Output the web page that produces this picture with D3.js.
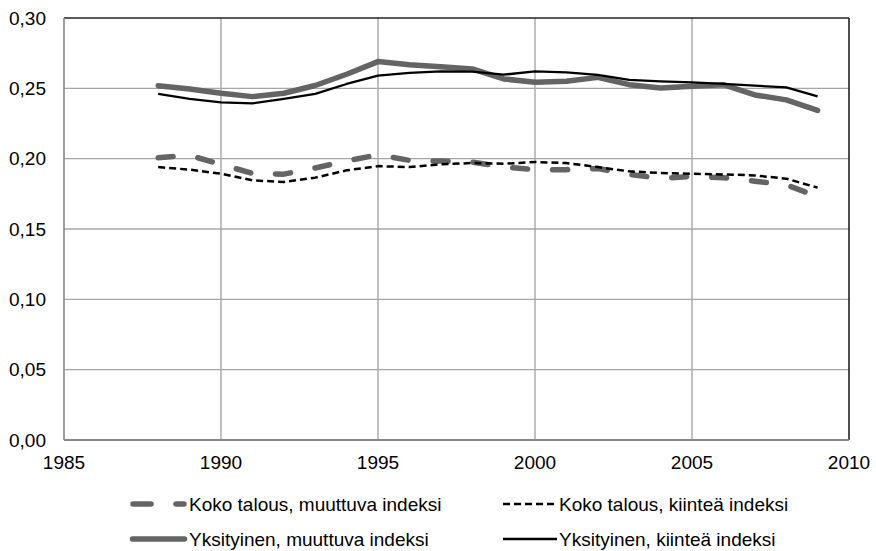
<!DOCTYPE html>
<html>
<head>
<meta charset="utf-8">
<script src="https://cdn.jsdelivr.net/npm/d3@7/dist/d3.min.js"></script>
<style>
  html, body { margin: 0; padding: 0; background: #fff; }
  svg { display: block; }
  text { font-family: "Liberation Sans", Arial, sans-serif; fill: #000; }
</style>
</head>
<body>
<svg id="chart" width="876" height="551"></svg>
<script>
const years = d3.range(1988, 2010);
const kokoMuuttuva = [0.2007, 0.2023, 0.1960, 0.1895, 0.1890, 0.1934, 0.1983, 0.2028, 0.1988, 0.1983, 0.1976, 0.1940,
                      0.1922, 0.1922, 0.1930, 0.1888, 0.1860, 0.1874, 0.1865, 0.1840, 0.1813, 0.1732];
const kokoKiintea = [0.1940, 0.1922, 0.1893, 0.1846, 0.1834, 0.1865, 0.1917, 0.1947, 0.1940, 0.1960, 0.1969, 0.1964,
                     0.1976, 0.1969, 0.1940, 0.1910, 0.1898, 0.1893, 0.1888, 0.1881, 0.1858, 0.1794];
const yksMuuttuva = [0.2519, 0.2495, 0.2465, 0.2441, 0.2465, 0.2520, 0.2600, 0.2690, 0.2668, 0.2654, 0.2638, 0.2567,
                     0.2543, 0.2550, 0.2578, 0.2526, 0.2503, 0.2514, 0.2526, 0.2453, 0.2418, 0.2343];
const yksKiintea = [0.2460, 0.2425, 0.2400, 0.2393, 0.2425, 0.2460, 0.2531, 0.2590, 0.2610, 0.2621, 0.2619, 0.2597,
                    0.2620, 0.2614, 0.2595, 0.2560, 0.2550, 0.2543, 0.2531, 0.2519, 0.2507, 0.2443];
const seriesNames = ["Koko talous, muuttuva indeksi", "Koko talous, kiinteä indeksi",
                     "Yksityinen, muuttuva indeksi", "Yksityinen, kiinteä indeksi"];
const xTicks = [1985, 1990, 1995, 2000, 2005, 2010];
const yTicks = [0, 0.05, 0.10, 0.15, 0.20, 0.25, 0.30];

const styles = [
  { color: "#646464", width: 5.5, dash: "15,25", cap: "round" },
  { color: "#000000", width: 2.5, dash: "7,4", cap: "butt" },
  { color: "#646464", width: 5.5, dash: null, cap: "round" },
  { color: "#000000", width: 2.3, dash: null, cap: "butt" }
];
const data = [kokoMuuttuva, kokoKiintea, yksMuuttuva, yksKiintea];

const svg = d3.select("#chart");
const L = 64, R = 849, T = 18, B = 440;
const x = d3.scaleLinear().domain([1985, 2010]).range([L, R]);
const y = d3.scaleLinear().domain([0, 0.30]).range([B, T]);

// gridlines
svg.append("g").selectAll("line.v").data(xTicks.slice(1, -1)).join("line")
  .attr("x1", d => x(d)).attr("x2", d => x(d)).attr("y1", T).attr("y2", B)
  .attr("stroke", "#a6a6a6").attr("stroke-width", 1.4);
svg.append("g").selectAll("line.h").data(yTicks.slice(1, -1)).join("line")
  .attr("x1", L).attr("x2", R).attr("y1", d => y(d)).attr("y2", d => y(d))
  .attr("stroke", "#a6a6a6").attr("stroke-width", 1.4);

// frame
svg.append("line").attr("x1", L).attr("x2", R).attr("y1", T).attr("y2", T).attr("stroke", "#222").attr("stroke-width", 1.6);
svg.append("line").attr("x1", R).attr("x2", R).attr("y1", T).attr("y2", B).attr("stroke", "#222").attr("stroke-width", 1.6);
svg.append("line").attr("x1", L).attr("x2", L).attr("y1", T).attr("y2", B).attr("stroke", "#888").attr("stroke-width", 1.6);
svg.append("line").attr("x1", L).attr("x2", R).attr("y1", B).attr("y2", B).attr("stroke", "#888").attr("stroke-width", 2);

// axes labels
const fmt = d => d3.format(".2f")(d).replace(".", ",");
svg.append("g").selectAll("text").data(yTicks).join("text")
  .attr("x", 46).attr("y", d => y(d)).attr("dy", "0.35em")
  .attr("text-anchor", "end").attr("font-size", 19).text(fmt);
svg.append("g").selectAll("text").data(xTicks).join("text")
  .attr("x", d => x(d)).attr("y", 469)
  .attr("text-anchor", "middle").attr("font-size", 19).text(d => d);

// lines
const line = d3.line().x((d, i) => x(years[i])).y(d => y(d));
data.forEach((s, k) => {
  const st = styles[k];
  const p = svg.append("path").datum(s).attr("d", line)
    .attr("fill", "none").attr("stroke", st.color).attr("stroke-width", st.width)
    .attr("stroke-linecap", st.cap).attr("stroke-linejoin", "round");
  if (st.dash) p.attr("stroke-dasharray", st.dash);
});

// legend
const legendPos = [
  { sx: 130, ex: 187, tx: 189, ly: 504 },
  { sx: 503, ex: 557, tx: 559, ly: 504 },
  { sx: 130, ex: 187, tx: 189, ly: 539 },
  { sx: 503, ex: 557, tx: 559, ly: 539 }
];
seriesNames.forEach((name, k) => {
  const st = styles[k], lp = legendPos[k];
  const g = svg.append("g");
  if (k === 0) {
    [[133, 151], [176, 184]].forEach(([a, b]) => {
      g.append("line").attr("x1", a).attr("x2", b).attr("y1", lp.ly).attr("y2", lp.ly)
        .attr("stroke", st.color).attr("stroke-width", st.width).attr("stroke-linecap", "round");
    });
  } else {
    const l = g.append("line").attr("x1", lp.sx + (st.cap === "round" ? 2.5 : 0)).attr("x2", lp.ex - (st.cap === "round" ? 2.5 : 0))
      .attr("y1", lp.ly).attr("y2", lp.ly)
      .attr("stroke", st.color).attr("stroke-width", st.width).attr("stroke-linecap", st.cap);
    if (st.dash) l.attr("stroke-dasharray", st.dash);
  }
  g.append("text").attr("x", lp.tx).attr("y", lp.ly).attr("dy", "0.35em")
    .attr("font-size", 19).text(name);
});
</script>
</body>
</html>
